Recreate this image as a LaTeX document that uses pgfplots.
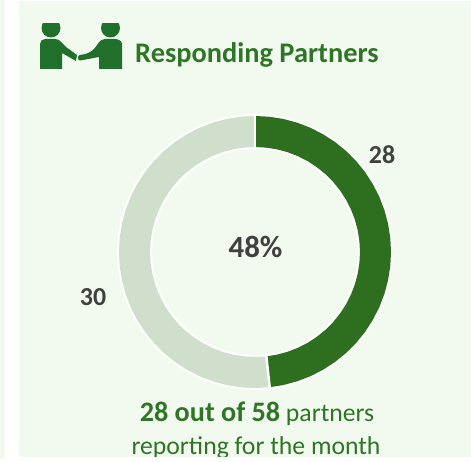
\documentclass[border=0pt]{standalone}
\usepackage{fontspec}
\setmainfont{Carlito}
\usepackage{pgfplots}
\pgfplotsset{compat=1.18}
\usepgfplotslibrary{polar}
\definecolor{panel}{HTML}{F2FAF0}
\definecolor{gdark}{HTML}{2E6F1F}
\definecolor{glight}{HTML}{CFDFCC}
\definecolor{gicon}{HTML}{20702C}
\definecolor{gtitle}{HTML}{2E7526}
\definecolor{numgrey}{HTML}{404040}
\begin{document}
\begin{tikzpicture}
  \path[use as bounding box] (0,0) rectangle (471bp,462bp);
  % panels and icon, in picture pixels from the top left
  \begin{scope}[shift={(0,462bp)}, x=1bp, y=-1bp]
    \fill[panel] (0,0) rectangle (5,459);
    \fill[panel] (19,1) rectangle (471,457);
    \begin{scope}
      \clip (30,24) rectangle (130,72);
      \fill[gicon] (51,28) circle (9.5);
      \fill[gicon] (110.5,28) circle (9.5);
    \end{scope}
    \fill[gicon] (40,69) -- (40,44) to[out=90,in=180] (45,39) -- (55,39)
      to[out=0,in=140] (66,47) -- (77,55) -- (76,61) -- (62,53) -- (62,69) -- cycle;
    \fill[gicon] (122,69) -- (122,44) to[out=90,in=0] (114,39) -- (105,39)
      to[out=180,in=40] (93,50) to[out=220,in=10] (80,55)
      to[out=190,in=90] (78,57.5) to[out=270,in=180] (80,60.5) -- (99,57) -- (99,69) -- cycle;
  \end{scope}
  \begin{axis}[
    at={(0,0)}, anchor=south west,
    scale only axis, width=471bp, height=462bp,
    xmin=-255, xmax=216, ymin=-210, ymax=252,
    hide axis, clip=false
  ]
    % white rim round the ring
    \addplot[white, line width=35bp, data cs=polar] coordinates {
      (0,120.5)(6,120.5)(12,120.5)(18,120.5)(24,120.5)(30,120.5)(36,120.5)(42,120.5)(48,120.5)(54,120.5)(60,120.5)
      (66,120.5)(72,120.5)(78,120.5)(84,120.5)(90,120.5)(96,120.5)(102,120.5)(108,120.5)(114,120.5)(120,120.5)
      (126,120.5)(132,120.5)(138,120.5)(144,120.5)(150,120.5)(156,120.5)(162,120.5)(168,120.5)(174,120.5)(180,120.5)
      (186,120.5)(192,120.5)(198,120.5)(204,120.5)(210,120.5)(216,120.5)(222,120.5)(228,120.5)(234,120.5)(240,120.5)
      (246,120.5)(252,120.5)(258,120.5)(264,120.5)(270,120.5)(276,120.5)(282,120.5)(288,120.5)(294,120.5)(300,120.5)
      (306,120.5)(312,120.5)(318,120.5)(324,120.5)(330,120.5)(336,120.5)(342,120.5)(348,120.5)(354,120.5)(360,120.5)
    };
    % 28 partners
    \addplot[gdark, line width=31bp, data cs=polar] coordinates {
      (90,120.5)(84,120.5)(78,120.5)(72,120.5)(66,120.5)(60,120.5)(54,120.5)(48,120.5)(42,120.5)(36,120.5)(30,120.5)
      (24,120.5)(18,120.5)(12,120.5)(6,120.5)(0,120.5)(-6,120.5)(-12,120.5)(-18,120.5)(-24,120.5)(-30,120.5)
      (-36,120.5)(-42,120.5)(-48,120.5)(-54,120.5)(-60,120.5)(-66,120.5)(-72,120.5)(-78,120.5)(-83.8,120.5)
    };
    % 30 partners
    \addplot[glight, line width=31bp, data cs=polar] coordinates {
      (-83.8,120.5)(-90,120.5)(-96,120.5)(-102,120.5)(-108,120.5)(-114,120.5)(-120,120.5)(-126,120.5)(-132,120.5)
      (-138,120.5)(-144,120.5)(-150,120.5)(-156,120.5)(-162,120.5)(-168,120.5)(-174,120.5)(-180,120.5)(-186,120.5)
      (-192,120.5)(-198,120.5)(-204,120.5)(-210,120.5)(-216,120.5)(-222,120.5)(-228,120.5)(-234,120.5)(-240,120.5)
      (-246,120.5)(-252,120.5)(-258,120.5)(-264,120.5)(-270,120.5)
    };
    % slice separators
    \addplot[white, line width=2.5bp, data cs=polar] coordinates {(90,102)(90,139)};
    \addplot[white, line width=2.5bp, data cs=polar] coordinates {(-83.8,102)(-83.8,139)};

    \node[text=numgrey, font=\fontsize{31}{31}\selectfont\bfseries] at (axis cs:0.5,5) {48\%};
    \node[text=numgrey, font=\fontsize{26}{26}\selectfont\bfseries] at (axis cs:127,97) {28};
    \node[text=numgrey, font=\fontsize{26}{26}\selectfont\bfseries] at (axis cs:-162,-45) {30};
    \node[text=gtitle, font=\fontsize{28.5}{28.5}\selectfont\bfseries, anchor=base west, inner sep=0pt] at (axis cs:-120,189.5) {Responding Partners};
    \node[text=gtitle, font=\fontsize{25.8}{26}\selectfont, anchor=base, inner sep=0pt] at (axis cs:2,-170) {{\fontsize{28.3}{28}\selectfont\bfseries 28 out of 58} partners};
    \node[text=gtitle, font=\fontsize{25.8}{26}\selectfont, anchor=base, inner sep=0pt] at (axis cs:1,-202) {reporting for the month};
    % the panel's lower edge cuts the last line
    \fill[white] (axis cs:-236,-210) rectangle (axis cs:216,-205);
  \end{axis}
\end{tikzpicture}
\end{document}
